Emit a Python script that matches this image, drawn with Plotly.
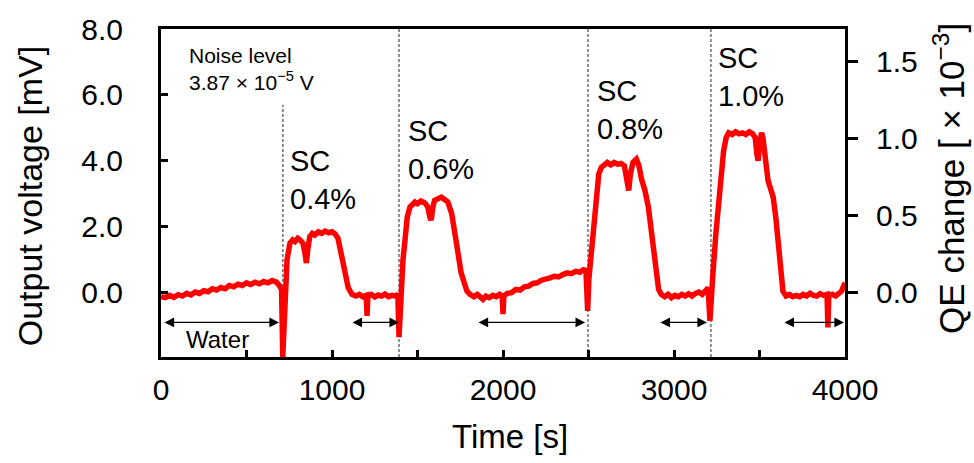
import plotly.graph_objects as go

# ---- data ----
time_s = [0, 25, 50, 75, 100, 125, 150, 175, 200, 225, 250, 275, 300, 325, 350, 375, 400, 425, 450, 475,
          500, 525, 550, 575, 600, 625, 650, 675, 695, 705, 712, 718, 725, 737, 754, 770, 784, 800, 813, 830,
          842, 850, 858, 870, 885, 900, 920, 940, 960, 980, 1000, 1018, 1035, 1058, 1075, 1095, 1117, 1140, 1160, 1180,
          1200, 1205, 1210, 1230, 1250, 1270, 1290, 1310, 1330, 1350, 1370, 1385, 1392, 1398, 1404, 1415, 1427, 1440, 1456, 1470,
          1485, 1500, 1520, 1544, 1560, 1572, 1580, 1590, 1600, 1620, 1640, 1660, 1678, 1700, 1720, 1737, 1755, 1770, 1789, 1807,
          1830, 1850, 1870, 1883, 1900, 1920, 1940, 1960, 1980, 1995, 2000, 2005, 2025, 2050, 2075, 2100, 2125, 2150, 2175, 2200,
          2225, 2250, 2275, 2300, 2325, 2350, 2375, 2400, 2425, 2450, 2470, 2485, 2495, 2502, 2509, 2520, 2530, 2545, 2560, 2575,
          2590, 2610, 2630, 2650, 2670, 2690, 2710, 2725, 2735, 2745, 2760, 2780, 2795, 2810, 2830, 2850, 2865, 2880, 2895, 2910,
          2925, 2945, 2965, 2985, 3005, 3025, 3045, 3065, 3085, 3105, 3125, 3145, 3165, 3185, 3200, 3210, 3216, 3228, 3245, 3260,
          3275, 3290, 3305, 3320, 3340, 3360, 3380, 3400, 3420, 3440, 3460, 3475, 3485, 3492, 3500, 3512, 3520, 3535, 3550, 3565,
          3580, 3595, 3610, 3622, 3637, 3655, 3675, 3695, 3715, 3735, 3755, 3775, 3795, 3815, 3835, 3855, 3875, 3895, 3900, 3905,
          3925, 3945, 3965, 3980, 4000]
voltage_mV = [-0.12, -0.15, -0.08, -0.14, -0.06, -0.10, -0.02, -0.07, 0.02, -0.02, 0.06, 0.03, 0.12, 0.08, 0.16, 0.12, 0.22, 0.18, 0.26, 0.22,
              0.30, 0.25, 0.32, 0.27, 0.34, 0.30, 0.37, 0.32, 0.20, 0.10, -1.95, -1.00, 0.30, 1.00, 1.50, 1.60, 1.55, 1.65, 1.60, 1.50,
              1.20, 0.90, 1.30, 1.70, 1.80, 1.75, 1.85, 1.80, 1.87, 1.82, 1.85, 1.78, 1.65, 1.10, 0.50, 0.15, -0.05, -0.10, -0.05, -0.12,
              -0.08, -0.70, -0.10, -0.05, -0.13, -0.07, -0.10, -0.04, -0.12, -0.08, -0.10, -0.05, -1.35, -0.60, 0.10, 1.00, 1.60, 2.30, 2.60, 2.70,
              2.75, 2.70, 2.78, 2.72, 2.60, 2.30, 2.20, 2.60, 2.80, 2.85, 2.90, 2.82, 2.75, 2.40, 1.60, 1.20, 0.60, 0.30, 0.05, -0.05,
              -0.12, -0.05, -0.15, -0.20, -0.10, -0.15, -0.08, -0.12, -0.05, -0.10, -0.65, -0.10, -0.02, 0.00, 0.10, 0.08, 0.18, 0.20, 0.28, 0.30,
              0.38, 0.40, 0.45, 0.50, 0.48, 0.55, 0.60, 0.58, 0.65, 0.62, 0.70, 0.68, -0.55, 0.40, 0.80, 1.60, 2.30, 3.10, 3.60, 3.80,
              3.85, 3.95, 3.88, 3.95, 3.90, 3.92, 3.85, 3.50, 3.10, 3.60, 3.95, 4.05, 3.85, 3.45, 3.10, 2.60, 2.00, 1.20, 0.50, 0.10,
              -0.05, -0.12, -0.05, -0.15, -0.08, -0.12, -0.05, -0.10, -0.03, -0.10, -0.02, 0.02, -0.05, 0.10, 0.15, -0.85, 0.00, 0.60, 1.80, 2.80,
              3.60, 4.30, 4.70, 4.85, 4.80, 4.88, 4.82, 4.85, 4.80, 4.88, 4.82, 4.70, 4.20, 4.00, 4.50, 4.85, 4.70, 4.00, 3.40, 3.15,
              2.90, 2.30, 1.40, 0.60, 0.05, -0.10, -0.05, -0.12, -0.08, -0.12, -0.05, -0.10, -0.02, -0.08, -0.10, -0.03, -0.08, -0.05, -1.05, -0.10,
              -0.05, -0.10, -0.02, 0.05, 0.30]

injection_times = [713, 1392, 2497, 3216]
sc_labels = ["SC<br>0.4%", "SC<br>0.6%", "SC<br>0.8%", "SC<br>1.0%"]
baseline_spans = [(12, 690), (1111, 1392), (1848, 2480), (2912, 3193), (3637, 3994)]

x_ticks = [0, 1000, 2000, 3000, 4000]
y_ticks = [0.0, 2.0, 4.0, 6.0, 8.0]
y2_ticks = [0.0, 0.5, 1.0, 1.5]

FONT = "Arial, 'Liberation Sans', sans-serif"

fig = go.Figure()
fig.add_trace(go.Scatter(x=time_s, y=voltage_mV, mode="lines",
                         line=dict(color="#ff0000", width=5.5), showlegend=False))
fig.add_trace(go.Scatter(x=[None], y=[None], yaxis="y2", showlegend=False))

shapes = []
for i, t in enumerate(injection_times):
    shapes.append(dict(type="line", xref="x", yref="y", x0=t, x1=t,
                       y0=-1.95, y1=(5.7 if i == 0 else 8.0),
                       line=dict(color="#222222", width=1, dash="3px,2px"), layer="below"))

annotations = []
for (a, b) in baseline_spans:
    annotations.append(dict(x=b, y=-0.9, ax=a, ay=-0.9, xref="x", yref="y", axref="x", ayref="y",
                            text="", showarrow=True, arrowhead=2, startarrowhead=2,
                            arrowside="end+start", arrowsize=1.6, startarrowsize=1.6,
                            arrowwidth=1.2, arrowcolor="black"))

sc_pos = [(740, 3.42), (1430, 4.32), (2536, 5.54), (3243, 6.53)]
for lab, (x, y) in zip(sc_labels, sc_pos):
    annotations.append(dict(x=x, y=y, xref="x", yref="y", text=lab, showarrow=False,
                            xanchor="left", yanchor="middle", align="left",
                            font=dict(family=FONT, size=29, color="black")))

annotations.append(dict(x=150, y=6.79, xref="x", yref="y",
                        text="Noise level<br>3.87 × 10<sup>−5</sup> V", showarrow=False,
                        xanchor="left", yanchor="middle", align="left",
                        font=dict(family=FONT, size=21, color="black")))
annotations.append(dict(x=333, y=-1.43, xref="x", yref="y", text="Water", showarrow=False,
                        xanchor="center", yanchor="middle",
                        font=dict(family=FONT, size=24, color="black")))

# axis titles
annotations.append(dict(x=-0.1915, y=0.49, xref="paper", yref="paper", text="Output voltage [mV]",
                        textangle=-90, showarrow=False, xanchor="center", yanchor="middle",
                        font=dict(family=FONT, size=34, color="black")))
annotations.append(dict(x=0.510, y=-0.243, xref="paper", yref="paper", text="Time [s]",
                        showarrow=False, xanchor="center", yanchor="middle",
                        font=dict(family=FONT, size=33, color="black")))
annotations.append(dict(x=1.153, y=0.545, xref="paper", yref="paper",
                        text="QE change [ × 10<sup>−3</sup>]",
                        textangle=-90, showarrow=False, xanchor="center", yanchor="middle",
                        font=dict(family=FONT, size=35, color="black")))

fig.update_layout(
    width=974, height=463,
    margin=dict(l=161, r=129, t=24, b=106),
    plot_bgcolor="white", paper_bgcolor="white",
    font=dict(family=FONT, color="black"),
    shapes=shapes, annotations=annotations,
    xaxis=dict(range=[0, 4000], tickvals=x_ticks, ticks="inside", ticklen=7, tickwidth=2.5,
               tickcolor="black", showline=True, linewidth=3, linecolor="black", mirror=True,
               showgrid=False, zeroline=False, tickfont=dict(size=30, family=FONT),
               ticklabelstandoff=4,
               minor=dict(dtick=500, ticks="inside", ticklen=7, tickwidth=2.5, tickcolor="black", showgrid=False)),
    yaxis=dict(range=[-1.95, 8.0], tickvals=y_ticks, tickformat=".1f", ticks="inside", ticklen=7,
               tickwidth=2.5, tickcolor="black", showline=True, linewidth=3, linecolor="black",
               showgrid=False, zeroline=False, tickfont=dict(size=30, family=FONT),
               ticklabelstandoff=29),
    yaxis2=dict(range=[-0.414, 1.707], tickvals=y2_ticks, tickformat=".1f", overlaying="y", side="right",
                ticks="outside", ticklen=10, tickwidth=2.5, tickcolor="black", showline=True,
                linewidth=3, linecolor="black", showgrid=False, zeroline=False,
                tickfont=dict(size=30, family=FONT), ticklabelstandoff=12),
)

fig.write_html("out.html")
